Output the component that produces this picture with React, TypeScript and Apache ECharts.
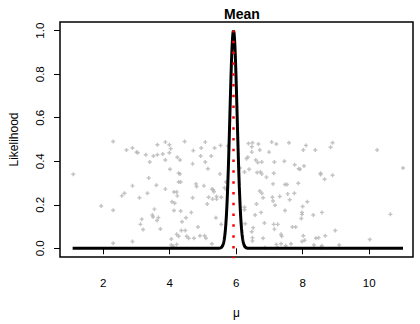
import React, { useEffect, useRef } from "react";
import * as echarts from "echarts";

const xTicks = [2, 4, 6, 8, 10];
const yTicks = [0, 0.2, 0.4, 0.6, 0.8, 1.0];

// observed data: [mu value, jitter height]
const obsX = [
  2.3, 1.1, 1.94, 2.3, 2.3,
  2.7, 2.88, 3.0, 3.04, 3.28, 3.4, 3.51, 3.63, 3.63, 3.79, 3.87, 3.99, 4.03, 3.99, 3.87, 4.23, 4.01, 4.27, 3.37, 2.88,
  3.6, 3.87, 2.64, 2.56, 3.33, 3.09, 4.13, 4.21, 4.23, 4.07, 4.15, 4.27, 3.54, 4.13, 3.48, 3.5, 3.66, 3.62, 3.16, 3.12,
  3.2, 3.72, 4.21, 4.27, 4.05, 2.88, 4.05, 4.11, 4.21,
  4.45, 4.71, 4.95, 5.07, 5.35, 5.53, 5.75, 4.93, 5.25, 4.31, 4.69, 5.07, 5.15, 5.51, 4.31, 4.33, 4.79, 4.81, 5.03,
  5.27, 5.33, 5.31, 5.65, 5.69, 5.71, 4.69, 5.17, 5.29, 5.41, 5.41, 5.55, 5.13, 4.33, 4.65, 4.49, 4.37, 5.39, 5.55,
  4.85, 4.35, 4.47, 4.51, 4.57, 4.73, 4.91, 5.05, 5.09, 5.27,
  6.37, 6.49, 6.47, 6.67, 7.07, 7.21, 7.59, 6.47, 6.71, 6.99, 6.35, 6.31, 6.59, 6.65, 6.77, 7.15, 7.45, 7.76, 7.88,
  6.11, 6.25, 6.39, 6.63, 6.73, 6.77, 6.91, 7.13, 7.11, 7.47, 7.53, 7.87, 6.71, 6.77, 6.81, 7.09, 7.11, 7.17, 7.31,
  7.55, 7.75, 7.61, 7.47, 6.61, 6.25, 6.25, 6.57, 6.75, 6.27, 6.85, 7.13, 7.25, 7.69, 7.79, 6.51, 6.47, 7.15, 7.35,
  7.37, 6.49, 6.49, 6.81, 7.35, 7.21, 7.49, 7.65, 6.87, 7.25, 6.27,
  8.1, 8.02, 8.38, 8.9, 8.84, 8.04, 7.92, 8.54, 8.54, 8.9, 8.66, 8.14, 8.0, 7.98, 7.98, 7.96, 8.32, 8.58, 8.98, 8.02,
  8.06, 7.98, 8.4, 8.48, 8.68, 8.34, 8.58, 8.54, 9.1,
  10.24, 11.02, 10.64, 10.02,
];
const obsY = [
  0.491, 0.34, 0.194, 0.175, 0.023,
  0.452, 0.461, 0.442, 0.439, 0.43, 0.397, 0.424, 0.43, 0.476, 0.433, 0.488, 0.476, 0.458, 0.439, 0.406, 0.418, 0.363, 0.345, 0.323, 0.287,
  0.29, 0.272, 0.253, 0.241, 0.253, 0.232, 0.259, 0.259, 0.241, 0.214, 0.207, 0.305, 0.18, 0.174, 0.153, 0.144, 0.141, 0.128, 0.134, 0.11,
  0.086, 0.089, 0.064, 0.055, 0.043, 0.031, 0.015, 0.009, 0.018,
  0.491, 0.449, 0.461, 0.488, 0.461, 0.473, 0.47, 0.424, 0.424, 0.406, 0.388, 0.397, 0.366, 0.342, 0.342, 0.305, 0.296, 0.284, 0.287,
  0.272, 0.26, 0.269, 0.278, 0.305, 0.269, 0.232, 0.235, 0.226, 0.226, 0.238, 0.235, 0.204, 0.171, 0.165, 0.14, 0.122, 0.14, 0.11,
  0.098, 0.082, 0.082, 0.055, 0.046, 0.046, 0.058, 0.058, 0.046, 0.021,
  0.482, 0.485, 0.467, 0.479, 0.488, 0.479, 0.485, 0.442, 0.452, 0.442, 0.418, 0.412, 0.406, 0.394, 0.397, 0.397, 0.4, 0.384, 0.366,
  0.369, 0.351, 0.363, 0.348, 0.351, 0.342, 0.327, 0.345, 0.296, 0.293, 0.293, 0.299, 0.263, 0.253, 0.232, 0.235, 0.217, 0.198, 0.238,
  0.25, 0.253, 0.223, 0.174, 0.204, 0.189, 0.177, 0.153, 0.165, 0.113, 0.116, 0.11, 0.11, 0.098, 0.098, 0.095, 0.076, 0.088, 0.064,
  0.055, 0.049, 0.034, 0.046, 0.021, 0.018, 0.012, 0.021, 0.003, 0.003, 0.006,
  0.473, 0.452, 0.452, 0.485, 0.464, 0.378, 0.363, 0.345, 0.339, 0.336, 0.317, 0.214, 0.192, 0.165, 0.156, 0.137, 0.153, 0.165, 0.082, 0.058,
  0.037, 0.031, 0.046, 0.049, 0.058, 0.015, 0.012, 0.003, 0.015,
  0.452, 0.369, 0.156, 0.04,
];

// likelihood curve parameters
const muHat = 5.92;
const seHat = 0.11;
const curveRange = [1.08, 11.04];

export default function App() {
  const ref = useRef<HTMLDivElement>(null);
  useEffect(() => {
    if (!ref.current) return;
    const chart = echarts.init(ref.current, null, { renderer: "svg" });
    const pts = obsX.map((x, i) => [x, obsY[i]]);
    const curve: number[][] = [];
    for (let x = curveRange[0]; x <= curveRange[1] + 1e-9; x += 0.005) {
      const z = (x - muHat) / seHat;
      curve.push([x, Math.exp(-0.5 * z * z)]);
    }
    const font = "Liberation Sans, Arial, Helvetica, sans-serif";
    chart.setOption({
      animation: false,
      title: {
        text: "Mean",
        left: 237,
        top: 2,
        textAlign: "center",
        textStyle: { fontFamily: font, fontSize: 14, fontWeight: "bold", color: "#000" },
      },
      grid: {
        left: 60,
        top: 22,
        right: 7,
        bottom: 67,
        show: true,
        borderColor: "#000",
        borderWidth: 1.5,
        backgroundColor: "transparent",
      },
      xAxis: {
        type: "value",
        min: 0.7,
        max: 11.32,
        name: "μ",
        nameLocation: "middle",
        nameGap: 50,
        nameTextStyle: { fontFamily: font, fontSize: 12, color: "#000" },
        axisLine: { show: false },
        axisTick: { show: true, length: 6, customValues: xTicks, lineStyle: { color: "#000", width: 1 } },
        axisLabel: { customValues: xTicks, margin: 20, fontFamily: font, fontSize: 11.5, color: "#000" },
        splitLine: { show: false },
      },
      yAxis: {
        type: "value",
        min: -0.04,
        max: 1.04,
        name: "Likelihood",
        nameLocation: "middle",
        nameGap: 40,
        nameRotate: 90,
        nameTextStyle: { fontFamily: font, fontSize: 12, color: "#000" },
        axisLine: { show: false },
        axisTick: { show: true, length: 6, customValues: yTicks, lineStyle: { color: "#000", width: 1 } },
        axisLabel: {
          customValues: yTicks,
          rotate: 90,
          margin: 14,
          fontFamily: font,
          fontSize: 11.5,
          color: "#000",
          formatter: (v: number) => v.toFixed(1),
        },
        splitLine: { show: false },
      },
      series: [
        {
          type: "scatter",
          data: pts,
          symbol: "path://M1.6,0h1.8v1.6h1.6v1.8h-1.6v1.6h-1.8v-1.6h-1.6v-1.8h1.6z",
          symbolSize: 4,
          itemStyle: { color: "#b4b4b4" },
          z: 1,
        },
        {
          type: "line",
          data: curve,
          showSymbol: false,
          lineStyle: { color: "#000", width: 3 },
          clip: true,
          z: 2,
        },
        {
          type: "line",
          data: [
            [muHat, -0.1],
            [muHat, 1.0],
          ],
          showSymbol: false,
          lineStyle: { color: "#ff0000", width: 2.5, type: [2.5, 8.3] },
          clip: true,
          z: 3,
        },
      ],
    });
    return () => chart.dispose();
  }, []);
  return (
    <div
      ref={ref}
      style={{ position: "fixed", left: 0, top: 0, width: 420, height: 324, background: "#fff" }}
    />
  );
}
